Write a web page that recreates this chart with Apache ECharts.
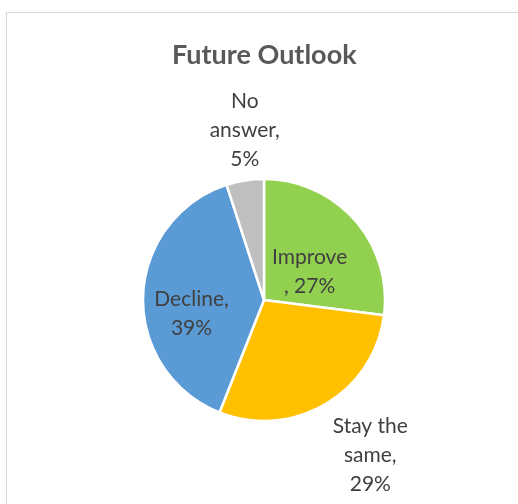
<!DOCTYPE html>
<html>
<head>
<meta charset="utf-8">
<script src="https://cdn.jsdelivr.net/npm/echarts@6/dist/echarts.min.js"></script>
<style>
  html, body { margin: 0; padding: 0; background: #fff; }
  #chart { width: 518px; height: 504px; }
</style>
</head>
<body>
<div id="chart"></div>
<script>
// Survey answers about the future outlook
const categories = ['Improve', 'Stay the same', 'Decline', 'No answer'];
const shares = [27, 29, 39, 5];
const sliceColors = ['#92D050', '#FFC000', '#5B9BD5', '#BFBFBF'];
const insideLabels = ['Improve', 'Decline'];

const labelText = {
  'Improve': 'Improve\n, {d}%',
  'Stay the same': 'Stay the\nsame,\n{d}%',
  'Decline': 'Decline,\n{d}%',
  'No answer': 'No\nanswer,\n{d}%'
};

// Nudge of each label block centre away from the library's default spot (px)
const labelShift = {
  'Improve': [-2, 14],
  'Stay the same': [-5, 39],
  'Decline': [-9, 16],
  'No answer': [42, -36]
};

const data = categories.map((name, i) => {
  const inside = insideLabels.includes(name);
  return {
    name,
    value: shares[i],
    itemStyle: { color: sliceColors[i] },
    label: {
      position: inside ? 'inside' : 'outside',
      formatter: labelText[name].replace('{d}', shares[i])
    },
    labelLine: { show: false }
  };
});

const chart = echarts.init(document.getElementById('chart'), null, { renderer: 'canvas' });
chart.setOption({
  animation: false,
  backgroundColor: '#fff',
  title: {
    text: 'Future Outlook',
    left: 167,
    top: 37,
    textStyle: { fontFamily: 'Lato', fontWeight: 'bold', fontSize: 27, color: '#595959' }
  },
  graphic: [{
    type: 'rect',
    shape: { x: 6.5, y: 12.5, width: 600, height: 600 },
    style: { fill: null, stroke: '#D9D9D9', lineWidth: 1 },
    silent: true
  }],
  series: [{
    type: 'pie',
    center: [264, 300],
    radius: 121,
    startAngle: 90,
    clockwise: true,
    data,
    itemStyle: { borderColor: '#fff', borderWidth: 2.5 },
    label: {
      fontFamily: 'Lato',
      fontSize: 21,
      lineHeight: 29,
      color: '#404040',
      align: 'center'
    },
    labelLine: { show: false, length: 14, length2: 0 },
    labelLayout: function (p) {
      const s = labelShift[categories[p.dataIndex]];
      const r = p.labelRect;
      return {
        x: r.x + r.width / 2 + s[0],
        y: r.y + r.height / 2 + s[1],
        align: 'center',
        verticalAlign: 'middle'
      };
    },
    emphasis: { disabled: true }
  }]
});
</script>
</body>
</html>
